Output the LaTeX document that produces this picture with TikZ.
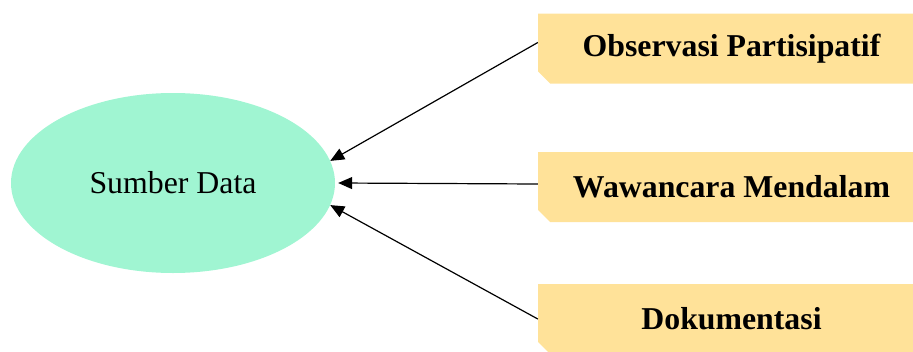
\documentclass[tikz,border=0pt]{standalone}
\usepackage{fontspec}
\setmainfont{Liberation Serif}
\usetikzlibrary{shapes.misc,shapes.geometric,arrows.meta}
\definecolor{mint}{RGB}{160,245,210}
\definecolor{sand}{RGB}{255,226,153}
\tikzset{
  source/.style={ellipse, fill=mint, minimum width=324pt, minimum height=180pt,
    inner sep=0pt, font=\fontsize{31.8}{38}\selectfont},
  method/.style={chamfered rectangle, chamfered rectangle corners=south west,
    chamfered rectangle xsep=6pt, chamfered rectangle ysep=6pt,
    fill=sand, minimum width=387pt, minimum height=70pt, inner sep=0pt,
    font=\fontsize{31.8}{38}\selectfont\bfseries},
  feed/.style={line width=1.2pt, -{Triangle[length=14pt,width=12pt]}}
}
\begin{document}
\begin{tikzpicture}[x=1pt,y=-1pt]
  \useasboundingbox (0,0) rectangle (913,351);
  \clip (0,0) rectangle (913,351);
  \node[source] (src) at (173,183) {Sumber Data};
  \node[method] (obs) at (731.5,48.5) {Observasi Partisipatif};
  \node[method] (waw) at (731.5,187) {Wawancara Mendalam};
  \node[method] (dok) at (731.5,319) {Dokumentasi};
  \draw[feed] ([yshift=6pt]obs.west) -- (src.8);
  \draw[feed] ([yshift=3pt]waw.west) -- ([xshift=3pt]src.east);
  \draw[feed] (dok.west) -- (src.-8);
\end{tikzpicture}
\end{document}
